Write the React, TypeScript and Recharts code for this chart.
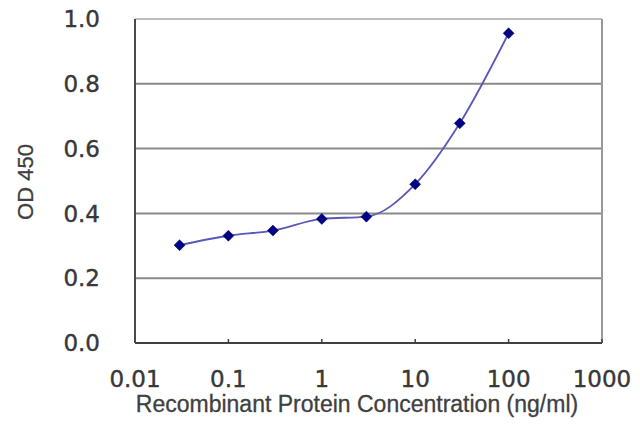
import React from 'react';
import {
  LineChart,
  Line,
  XAxis,
  YAxis,
  CartesianGrid,
  ReferenceLine,
} from 'recharts';

const concentrations = [0.03, 0.1, 0.3, 1, 3, 10, 30, 100];
const odValues = [0.302, 0.331, 0.347, 0.383, 0.39, 0.49, 0.678, 0.956];
const xTicks = [0.01, 0.1, 1, 10, 100, 1000];
const yTicks = [0, 0.2, 0.4, 0.6, 0.8, 1.0];
const xTitle = 'Recombinant Protein Concentration (ng/ml)';
const yTitle = 'OD 450';

const data = concentrations.map((c, i) => ({ x: c, y: odValues[i] }));

const Diamond = (props: any) => {
  const { cx, cy } = props;
  if (cx == null || cy == null) return null;
  const w = 5.5;
  const h = 5.5;
  return (
    <path
      d={`M${cx},${cy - h} L${cx + w},${cy} L${cx},${cy + h} L${cx - w},${cy} Z`}
      fill="#000080"
      stroke="#000080"
      strokeWidth={0.5}
    />
  );
};

const tickStyle = {
  fontFamily: 'DejaVu Sans, sans-serif',
  fontSize: 23,
  fill: '#383838',
  stroke: '#383838',
  strokeWidth: 0.4,
};

export default function App() {
  return (
    <div style={{ position: 'absolute', left: 0, top: 0, width: 640, height: 427, background: '#fff' }}>
      <LineChart
        width={640}
        height={427}
        data={data}
        margin={{ top: 19, right: 38, bottom: 0, left: 0 }}
      >
        <CartesianGrid vertical={false} stroke="#8a8a8a" strokeWidth={2} />
        <XAxis
          dataKey="x"
          type="number"
          scale="log"
          domain={[0.01, 1000]}
          ticks={xTicks}
          allowDataOverflow
          height={84}
          tickSize={-4}
          tickMargin={32}
          tick={tickStyle}
          tickFormatter={(v: number) => String(v)}
          axisLine={{ stroke: '#404040', strokeWidth: 2 }}
          tickLine={{ stroke: '#404040', strokeWidth: 1.5 }}
          interval={0}
          label={{
            content: () => (
              <text
                x={357}
                y={412}
                textAnchor="middle"
                fontFamily="Liberation Sans, Arial, sans-serif"
                fontSize={23}
                fill="#404040"
                stroke="#404040"
                strokeWidth={0.3}
              >
                {xTitle}
              </text>
            ),
          }}
        />
        <YAxis
          dataKey="y"
          type="number"
          domain={[0, 1]}
          ticks={yTicks}
          width={135}
          tickSize={0}
          tickMargin={35}
          tick={tickStyle}
          tickFormatter={(v: number) => v.toFixed(1)}
          axisLine={{ stroke: '#4a4a4a', strokeWidth: 2 }}
          tickLine={false}
          interval={0}
          label={{
            content: () => (
              <text
                x={25}
                y={182}
                transform="rotate(-90 25 182)"
                textAnchor="middle"
                dominantBaseline="central"
                fontFamily="Liberation Sans, Arial, sans-serif"
                fontSize={22}
                fill="#404040"
                stroke="#404040"
                strokeWidth={0.3}
              >
                {yTitle}
              </text>
            ),
          }}
        />
        <ReferenceLine y={1} stroke="#bdbdbd" strokeWidth={2} />
        <ReferenceLine x={1000} stroke="#9a9a9a" strokeWidth={2} />
        <Line
          type="monotone"
          dataKey="y"
          stroke="#5858b8"
          strokeWidth={1.8}
          dot={<Diamond />}
          activeDot={false}
          isAnimationActive={false}
        />
      </LineChart>
    </div>
  );
}
